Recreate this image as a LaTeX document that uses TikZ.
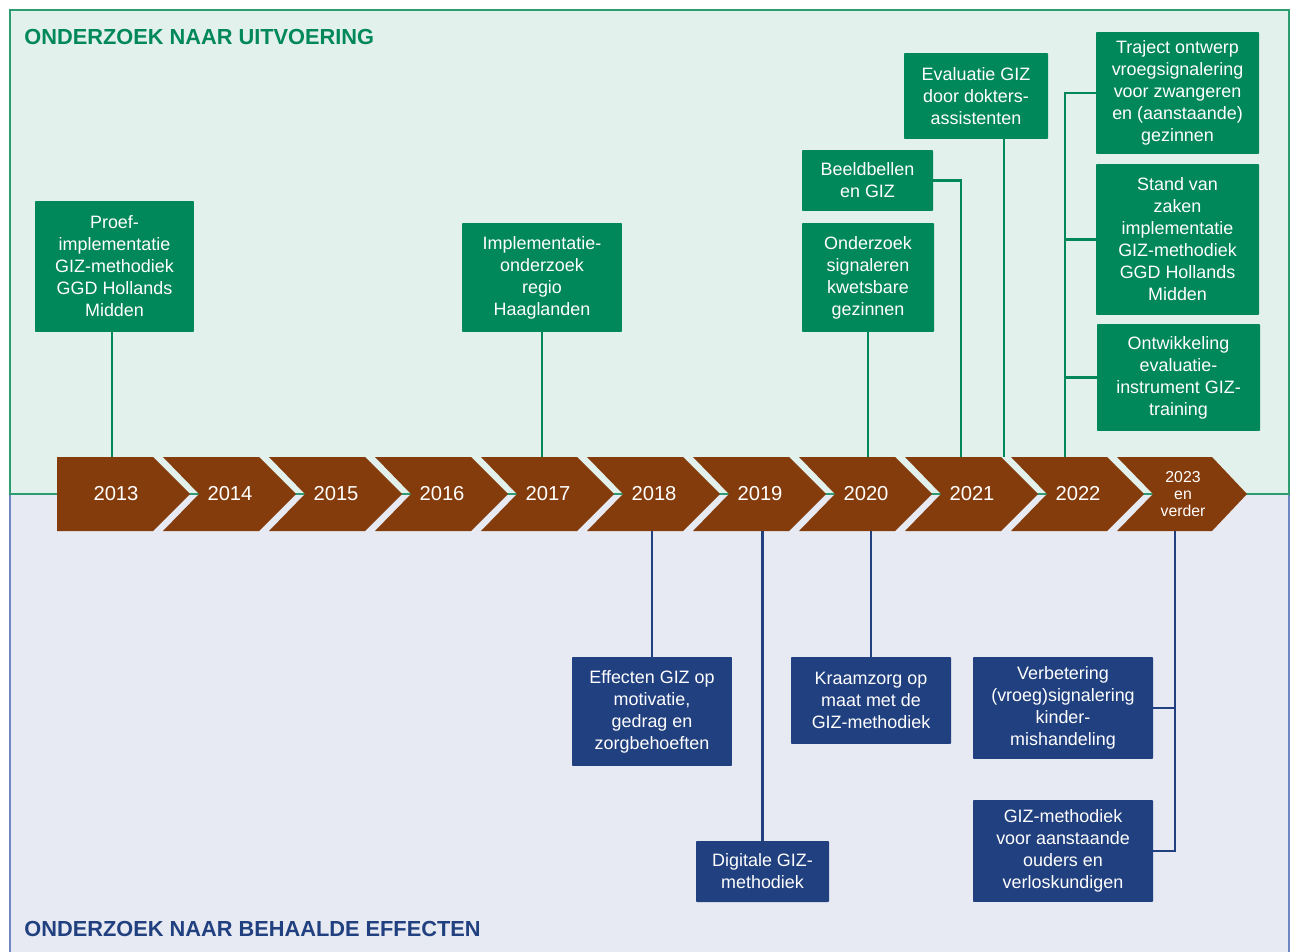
\documentclass[tikz,border=0pt]{standalone}
\usepackage{fontspec}
\setmainfont{Liberation Sans}
\definecolor{gizgreen}{HTML}{00875A}
\definecolor{gizblue}{HTML}{21407F}
\definecolor{gizbrown}{HTML}{843C0C}
\definecolor{uppanel}{HTML}{E3F1EC}
\definecolor{upborder}{HTML}{2E9B70}
\definecolor{lowpanel}{HTML}{E7EAF2}
\definecolor{lowborder}{HTML}{6F86C0}

\begin{document}
\begin{tikzpicture}[x=0.02cm,y=-0.02cm,
  upbox/.style={fill=gizgreen,text=white,align=center,inner sep=0pt,rounded corners=0.5pt,font=\fontsize{10.2}{12.5}\selectfont},
  lowbox/.style={fill=gizblue,text=white,align=center,inner sep=0pt,rounded corners=0.5pt,font=\fontsize{10.2}{12.5}\selectfont},
  upline/.style={draw=gizgreen,line width=1.4pt},
  lowline/.style={draw=gizblue,line width=1.4pt},
  chev/.style={fill=gizbrown},
  yearlbl/.style={text=white,inner sep=0pt,minimum height=1.48cm,font=\fontsize{11.5}{13}\selectfont},
  paneltitle/.style={anchor=base west,inner sep=0pt,font=\bfseries\fontsize{12.4}{14}\selectfont}]
\useasboundingbox (0,0) rectangle (1290,952);
\fill[lowpanel] (10,494) rectangle (1289,952);
\draw[lowborder,line width=0.8pt] (10,952) -- (10,494) -- (1289,494) -- (1289,952);
\fill[uppanel] (10,10) rectangle (1289,494);
\draw[upborder,line width=0.8pt] (10,10) rectangle (1289,494);
\node[paneltitle,text=gizgreen] (uptitle) at (24,45) {ONDERZOEK NAAR UITVOERING};
\node[paneltitle,text=gizblue] (lowtitle) at (24,936) {ONDERZOEK NAAR BEHAALDE EFFECTEN};
% timeline
\fill[chev] (57,457) -- (153,457) -- (190,494) -- (153,531) -- (57,531) -- cycle;
\node[yearlbl] (y2013) at (116,494) {2013};
\foreach \yr [count=\i from 0] in {2014,...,2022} {
  \pgfmathsetmacro\xa{163+106*\i}
  \fill[chev] (\xa,457) -- ++(96,0) -- ++(37,37) -- ++(-37,37) -- ++(-96,0) -- ++(36,-37) -- cycle;
  \node[yearlbl] (y\yr) at (\xa+67,494) {\yr};
}
\fill[chev] (1117,457) -- (1212,457) -- (1247,494) -- (1212,531) -- (1117,531) -- (1153,494) -- cycle;
\node[yearlbl,align=center,font=\fontsize{9}{9.8}\selectfont] (y2023) at (1183,494) {2023\\en\\verder};
% uitvoering
\node[upbox,minimum width=3.18cm,minimum height=2.62cm] (proef) at (114.5,266.5) {Proef-\\implementatie\\GIZ-methodiek\\GGD Hollands\\Midden};
\node[upbox,minimum width=3.2cm,minimum height=2.18cm] (impl) at (542,277.5) {Implementatie-\\onderzoek\\regio\\Haaglanden};
\node[upbox,minimum width=2.62cm,minimum height=1.22cm] (beeld) at (867.5,180.5) {Beeldbellen\\en GIZ};
\node[upbox,minimum width=2.64cm,minimum height=2.18cm] (kwets) at (868,277.5) {Onderzoek\\signaleren\\kwetsbare\\gezinnen};
\node[upbox,minimum width=2.88cm,minimum height=1.72cm] (eval) at (976,96) {Evaluatie GIZ\\door dokters-\\assistenten};
\node[upbox,minimum width=3.26cm,minimum height=2.44cm] (traject) at (1177.5,93) {Traject ontwerp\\vroegsignalering\\voor zwangeren\\en (aanstaande)\\gezinnen};
\node[upbox,minimum width=3.26cm,minimum height=3.02cm] (stand) at (1177.5,239.5) {Stand van\\zaken\\implementatie\\GIZ-methodiek\\GGD Hollands\\Midden};
\node[upbox,minimum width=3.26cm,minimum height=2.14cm] (ontw) at (1178.5,377.5) {Ontwikkeling\\evaluatie-\\instrument GIZ-\\training};
\draw[upline] ([xshift=-0.05cm]proef.south) -- ([xshift=-0.05cm]proef.south |- y2013.north);
\draw[upline] (impl.south) -- (impl.south |- y2017.north);
\draw[upline] (kwets.south) -- (kwets.south |- y2020.north);
\draw[upline] (beeld.east) -| ([xshift=-0.22cm]y2021.north);
\draw[upline] ([xshift=0.56cm]eval.south) -- ([xshift=0.56cm]eval.south |- y2021.north);
\coordinate (t22) at ([xshift=-0.26cm]y2022.north);
\draw[upline] (traject.west) -| (t22);
\draw[upline] (stand.west) -- (stand.west -| t22);
\draw[upline] (ontw.west) -- (ontw.west -| t22);
% effecten
\node[lowbox,minimum width=3.2cm,minimum height=2.18cm] (motiv) at (652,711.5) {Effecten GIZ op\\motivatie,\\gedrag en\\zorgbehoeften};
\node[lowbox,minimum width=2.66cm,minimum height=1.22cm] (digi) at (762.5,871.5) {Digitale GIZ-\\methodiek};
\node[lowbox,minimum width=3.2cm,minimum height=1.74cm] (kraam) at (871,700.5) {Kraamzorg op\\maat met de\\GIZ-methodiek};
\node[lowbox,minimum width=3.6cm,minimum height=2.04cm] (verbet) at (1063,708) {Verbetering\\(vroeg)signalering\\kinder-\\mishandeling};
\node[lowbox,minimum width=3.6cm,minimum height=2.04cm] (verlos) at (1063,851) {GIZ-methodiek\\voor aanstaande\\ouders en\\verloskundigen};
\draw[lowline] (motiv.north) -- (motiv.north |- y2018.south);
\draw[lowline] (digi.north) -- (digi.north |- y2019.south);
\draw[lowline] (kraam.north) -- (kraam.north |- y2020.south);
\coordinate (t23) at ([xshift=-0.16cm]y2023.south);
\draw[lowline] (t23) |- (verlos.east);
\draw[lowline] (verbet.east) -- (verbet.east -| t23);
\end{tikzpicture}
\end{document}
